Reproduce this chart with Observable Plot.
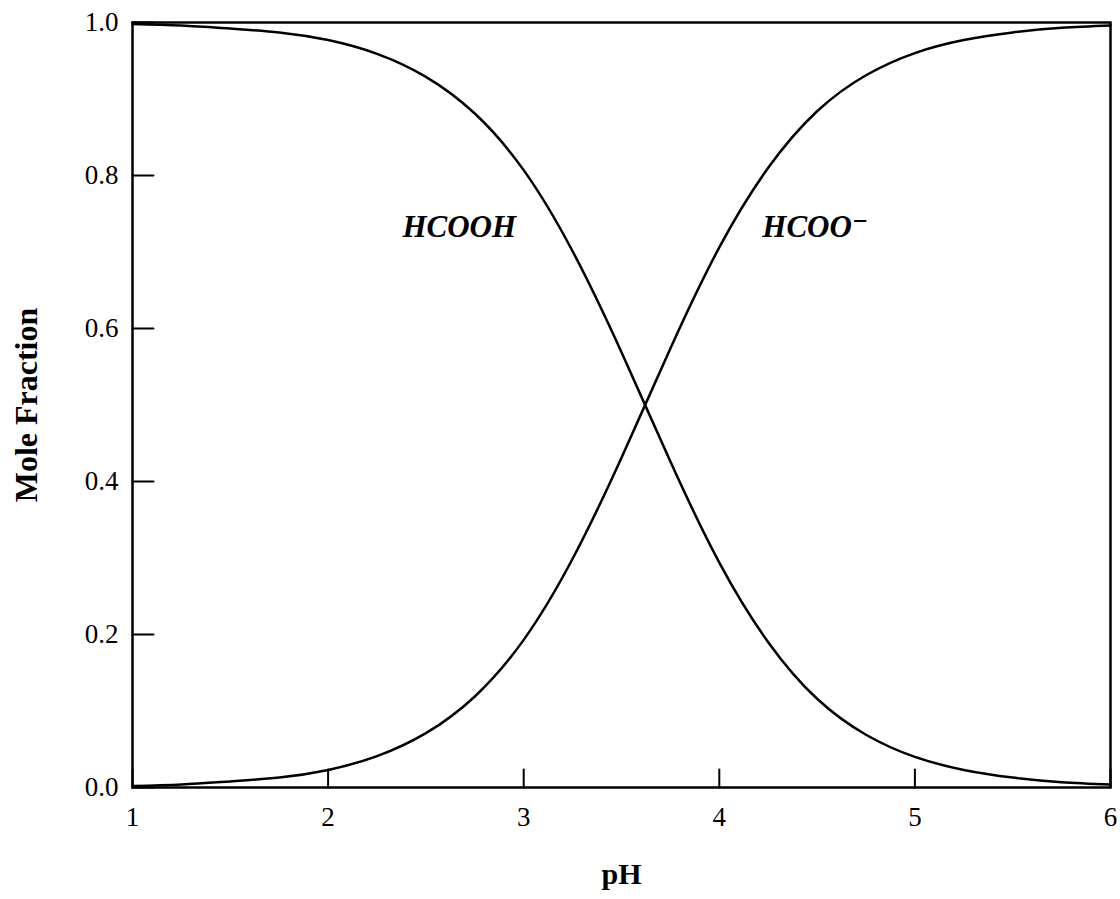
<!DOCTYPE html>
<html>
<head>
<meta charset="utf-8">
<script src="https://cdn.jsdelivr.net/npm/d3@7"></script>
<script src="https://cdn.jsdelivr.net/npm/@observablehq/plot@0.6"></script>
<style>
  html, body { margin: 0; padding: 0; background: #fff; }
  #chart { width: 1120px; height: 899px; }
</style>
</head>
<body>
<div id="chart"></div>
<script>
// pH grid
const pH = [1, 1.25, 1.5, 1.75, 2, 2.25, 2.5, 2.75, 3, 3.25, 3.5, 3.75, 4, 4.25, 4.5, 4.75, 5, 5.25, 5.5, 5.75, 6];
// Mole fraction of HCOOH
const hcooh = [0.998, 0.996, 0.992, 0.987, 0.977, 0.959, 0.929, 0.881, 0.807, 0.701, 0.569, 0.426, 0.294, 0.190, 0.116, 0.069, 0.040, 0.023, 0.013, 0.007, 0.004];
// Mole fraction of HCOO-
const hcoo = [0.002, 0.004, 0.008, 0.013, 0.023, 0.041, 0.071, 0.119, 0.193, 0.299, 0.431, 0.574, 0.706, 0.810, 0.884, 0.931, 0.960, 0.977, 0.987, 0.993, 0.996];
const xTicks = [1, 2, 3, 4, 5, 6];
const yTicks = [0, 0.2, 0.4, 0.6, 0.8, 1.0];
const labels = [
  {name: "HCOOH", x: 2.38, y: 0.733},
  {name: "HCOO\u207B", x: 4.22, y: 0.733}
];

const rowsAcid = pH.map((p, i) => ({pH: p, f: hcooh[i]}));
const rowsBase = pH.map((p, i) => ({pH: p, f: hcoo[i]}));

// straight inward tick shape for vector marks
const tickShape = {draw(context, l) { context.moveTo(0, 0); context.lineTo(0, -l); }};

const chart = Plot.plot({
  width: 1120,
  height: 899,
  marginLeft: 132,
  marginRight: 10,
  marginTop: 22,
  marginBottom: 112,
  style: {fontFamily: "'Liberation Serif', 'DejaVu Serif', serif", background: "#fff", color: "#000"},
  x: {domain: [1, 6]},
  y: {domain: [0, 1]},
  marks: [
    Plot.axisX(xTicks, {tickSize: 0, tickPadding: 19, fontSize: 27, tickFormat: d3.format("d"), label: null}),
    Plot.axisY(yTicks, {tickSize: 0, tickPadding: 14, fontSize: 27, tickFormat: d3.format(".1f"), label: null}),
    Plot.vector(xTicks, {x: d => d, frameAnchor: "bottom", length: 18, anchor: "start", rotate: 0, shape: tickShape, stroke: "#000", strokeWidth: 2}),
    Plot.vector(yTicks, {y: d => d, frameAnchor: "left", length: 21, anchor: "start", rotate: 90, shape: tickShape, stroke: "#000", strokeWidth: 2}),
    Plot.frame({stroke: "#000", strokeWidth: 2.5}),
    Plot.line(rowsAcid, {x: "pH", y: "f", stroke: "#000", strokeWidth: 2.5, curve: "natural"}),
    Plot.line(rowsBase, {x: "pH", y: "f", stroke: "#000", strokeWidth: 2.5, curve: "natural"}),
    Plot.text(labels, {x: "x", y: "y", text: "name", textAnchor: "start", fontSize: 31, fontWeight: "bold", fontStyle: "italic", fill: "#000"}),
    Plot.text(["pH"], {frameAnchor: "bottom", textAnchor: "middle", lineAnchor: "middle", dy: 87, fontSize: 30, fontWeight: "bold", fill: "#000"}),
    Plot.text(["Mole Fraction"], {frameAnchor: "left", textAnchor: "middle", lineAnchor: "middle", dx: -106, rotate: -90, fontSize: 32, fontWeight: "bold", fill: "#000"})
  ]
});
document.getElementById("chart").appendChild(chart);
</script>
</body>
</html>
